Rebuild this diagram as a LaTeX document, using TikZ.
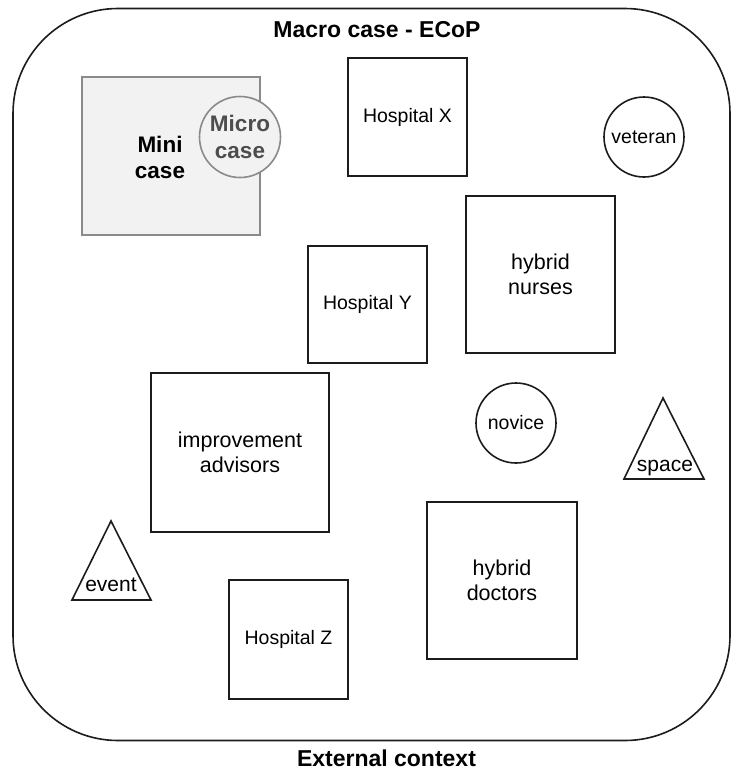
\documentclass[tikz,border=0pt]{standalone}
\usepackage{fontspec}
\setmainfont{Liberation Sans}
\usepackage{xcolor}
\usepackage{tikz}
\definecolor{CaseGray}{HTML}{F2F2F2}
\definecolor{CaseEdge}{HTML}{8A8A8A}
\definecolor{MicroInk}{HTML}{4D4D4D}
\definecolor{LineInk}{HTML}{1C1C1C}
\tikzset{
  macrobox/.style={draw=LineInk,line width=1.6pt,rounded corners=105pt},
  casetitle/.style={anchor=base,inner sep=0pt,font=\bfseries\fontsize{23}{27}\selectfont},
  hospbox/.style={draw=LineInk,line width=1.6pt,fill=white,align=center,inner sep=0pt,font=\fontsize{19.5}{24}\selectfont},
  groupbox/.style={draw=LineInk,line width=1.6pt,fill=white,align=center,inner sep=0pt,font=\fontsize{21.5}{25}\selectfont},
  actorcirc/.style={circle,draw=LineInk,line width=1.6pt,fill=white,inner sep=0pt,minimum size=80pt,font=\fontsize{19.5}{24}\selectfont},
  trimark/.style={draw=LineInk,line width=1.6pt,line join=miter},
  trilabel/.style={anchor=base,inner sep=0pt,font=\fontsize{21}{24}\selectfont},
  minibox/.style={draw=CaseEdge,line width=1.6pt,fill=CaseGray,minimum width=178pt,minimum height=158pt,inner sep=0pt},
  minilabel/.style={align=center,inner sep=0pt,font=\bfseries\fontsize{22.5}{26}\selectfont},
  microcirc/.style={circle,draw=CaseEdge,line width=1.6pt,fill=CaseGray,minimum size=81pt,inner sep=0pt,align=center,text=MicroInk,font=\bfseries\fontsize{22.5}{27}\selectfont}
}
\begin{document}
\begin{tikzpicture}[x=1pt,y=-1pt]
\useasboundingbox (0,0) rectangle (732,772);
\draw[macrobox] (13,8.5) rectangle (730,740.5);
\node[casetitle] (macro) at (377,37.3) {Macro case - ECoP};
\node[casetitle] (context) at (386.5,766) {External context};
\node[minibox] (mini) at (171,156) {};
\node[minilabel] (minitxt) at (160,157.5) {Mini\\case};
\node[microcirc] (micro) at (240,137) {Micro\\case};
\node[hospbox,minimum width=119pt,minimum height=118pt] (hospx) at (407.5,117) {Hospital X};
\node[hospbox,minimum width=119pt,minimum height=117pt] (hospy) at (367.5,304.5) {Hospital Y};
\node[hospbox,minimum width=119pt,minimum height=119pt] (hospz) at (288.5,639.5) {Hospital Z};
\node[groupbox,minimum width=149pt,minimum height=157pt] (nurses) at (540.5,274.5) {hybrid\\nurses};
\node[groupbox,minimum width=178pt,minimum height=159pt] (advisors) at (240,452.5) {improvement\\advisors};
\node[groupbox,minimum width=150pt,minimum height=157pt] (doctors) at (502,580.5) {hybrid\\doctors};
\node[actorcirc] (veteran) at (644,137) {veteran};
\node[actorcirc] (novice) at (516,423) {novice};
\draw[trimark] (663,398) -- (704,479) -- (624,479) -- cycle;
\node[trilabel] (space) at (665,471.7) {space};
\draw[trimark] (111,521) -- (151,600) -- (72,600) -- cycle;
\node[trilabel] (event) at (111,591.7) {event};
\end{tikzpicture}
\end{document}
